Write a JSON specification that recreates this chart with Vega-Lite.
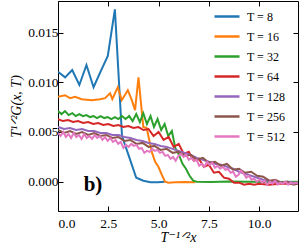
{
  "$schema": "https://vega.github.io/schema/vega-lite/v6.json",
  "width": 240,
  "height": 210,
  "autosize": {"type": "none"},
  "padding": {"left": 58, "top": 1, "right": 2, "bottom": 39},
  "background": "white",
  "config": {
    "view": {"stroke": null},
    "axis": {
      "domainColor": "black", "domainWidth": 1, "tickColor": "black", "tickWidth": 1, "tickSize": -5,
      "grid": false, "labelFont": "Liberation Serif, DejaVu Serif, serif", "labelFontSize": 13.5, "labelColor": "black",
      "titleFont": "Liberation Serif, DejaVu Serif, serif", "titleFontSize": 14, "titleFontWeight": "normal", "titleFontStyle": "italic", "titleColor": "black"
    },
    "legend": {
      "labelFont": "Liberation Serif, DejaVu Serif, serif", "labelFontSize": 12, "labelColor": "black"
    }
  },
  "datasets": {
    "curves": [
      {"T": 8, "x": 0.0, "y": 0.01107}, {"T": 8, "x": 0.354, "y": 0.0105}, {"T": 8, "x": 0.707, "y": 0.01124},
      {"T": 8, "x": 1.061, "y": 0.00973}, {"T": 8, "x": 1.414, "y": 0.01174}, {"T": 8, "x": 1.768, "y": 0.0095},
      {"T": 8, "x": 2.121, "y": 0.0111}, {"T": 8, "x": 2.475, "y": 0.01265}, {"T": 8, "x": 2.828, "y": 0.01734},
      {"T": 8, "x": 3.182, "y": 0.0046}, {"T": 8, "x": 3.536, "y": 0.0025}, {"T": 8, "x": 3.889, "y": 0.0004},
      {"T": 8, "x": 4.243, "y": 0.0001}, {"T": 8, "x": 4.596, "y": -0.00005}, {"T": 8, "x": 4.95, "y": -0.00005},
      {"T": 8, "x": 5.303, "y": 0.0},

      {"T": 16, "x": 0.0, "y": 0.00855}, {"T": 16, "x": 0.35, "y": 0.0087}, {"T": 16, "x": 0.6, "y": 0.0084},
      {"T": 16, "x": 0.85, "y": 0.00855}, {"T": 16, "x": 1.18, "y": 0.0083}, {"T": 16, "x": 1.68, "y": 0.0082},
      {"T": 16, "x": 2.09, "y": 0.0083}, {"T": 16, "x": 2.34, "y": 0.0084}, {"T": 16, "x": 2.59, "y": 0.0089},
      {"T": 16, "x": 2.7, "y": 0.0083}, {"T": 16, "x": 2.97, "y": 0.0095}, {"T": 16, "x": 3.17, "y": 0.0082},
      {"T": 16, "x": 3.47, "y": 0.0092}, {"T": 16, "x": 3.67, "y": 0.0082}, {"T": 16, "x": 3.83, "y": 0.0072},
      {"T": 16, "x": 4.0, "y": 0.0105}, {"T": 16, "x": 4.24, "y": 0.0055}, {"T": 16, "x": 4.41, "y": 0.0054},
      {"T": 16, "x": 4.66, "y": 0.003}, {"T": 16, "x": 4.83, "y": 0.002}, {"T": 16, "x": 4.99, "y": 0.0015},
      {"T": 16, "x": 5.16, "y": 0.0007}, {"T": 16, "x": 5.32, "y": 0.0}, {"T": 16, "x": 5.49, "y": -0.0001},
      {"T": 16, "x": 5.82, "y": -0.00006}, {"T": 16, "x": 6.3, "y": -0.00004}, {"T": 16, "x": 6.82, "y": -0.00006},

      {"T": 32, "x": 0.0, "y": 0.0071}, {"T": 32, "x": 0.18, "y": 0.0068}, {"T": 32, "x": 0.35, "y": 0.0071},
      {"T": 32, "x": 0.53, "y": 0.0067}, {"T": 32, "x": 0.71, "y": 0.0069}, {"T": 32, "x": 0.88, "y": 0.0066},
      {"T": 32, "x": 1.06, "y": 0.0068}, {"T": 32, "x": 1.24, "y": 0.0066}, {"T": 32, "x": 1.41, "y": 0.0067},
      {"T": 32, "x": 1.59, "y": 0.0065}, {"T": 32, "x": 1.77, "y": 0.0066}, {"T": 32, "x": 1.94, "y": 0.0064},
      {"T": 32, "x": 2.12, "y": 0.0066}, {"T": 32, "x": 2.3, "y": 0.0064}, {"T": 32, "x": 2.47, "y": 0.0065},
      {"T": 32, "x": 2.65, "y": 0.0063}, {"T": 32, "x": 2.83, "y": 0.0065}, {"T": 32, "x": 3.0, "y": 0.0063},
      {"T": 32, "x": 3.18, "y": 0.0066}, {"T": 32, "x": 3.36, "y": 0.0063}, {"T": 32, "x": 3.54, "y": 0.0066},
      {"T": 32, "x": 3.71, "y": 0.0061}, {"T": 32, "x": 3.89, "y": 0.0068}, {"T": 32, "x": 4.07, "y": 0.006},
      {"T": 32, "x": 4.24, "y": 0.0069}, {"T": 32, "x": 4.42, "y": 0.0058}, {"T": 32, "x": 4.6, "y": 0.0066},
      {"T": 32, "x": 4.77, "y": 0.0055}, {"T": 32, "x": 4.95, "y": 0.0063}, {"T": 32, "x": 5.13, "y": 0.0052},
      {"T": 32, "x": 5.3, "y": 0.0058}, {"T": 32, "x": 5.48, "y": 0.0046}, {"T": 32, "x": 5.66, "y": 0.0051},
      {"T": 32, "x": 5.83, "y": 0.0034}, {"T": 32, "x": 6.01, "y": 0.0027}, {"T": 32, "x": 6.19, "y": 0.0018},
      {"T": 32, "x": 6.36, "y": 0.0013}, {"T": 32, "x": 6.54, "y": 0.0006}, {"T": 32, "x": 6.72, "y": 0.0001},
      {"T": 32, "x": 6.89, "y": 0.0}, {"T": 32, "x": 7.6, "y": -0.00002}, {"T": 32, "x": 8.5, "y": 0.00002},
      {"T": 32, "x": 9.5, "y": 0.0}, {"T": 32, "x": 10.5, "y": -0.00002}, {"T": 32, "x": 11.93, "y": 0.0},

      {"T": 64, "x": 0.0, "y": 0.0063}, {"T": 64, "x": 0.25, "y": 0.0061}, {"T": 64, "x": 0.5, "y": 0.0062},
      {"T": 64, "x": 0.75, "y": 0.006}, {"T": 64, "x": 1.0, "y": 0.0061}, {"T": 64, "x": 1.25, "y": 0.0059},
      {"T": 64, "x": 1.5, "y": 0.006}, {"T": 64, "x": 1.75, "y": 0.0058}, {"T": 64, "x": 2.0, "y": 0.0059},
      {"T": 64, "x": 2.25, "y": 0.0057}, {"T": 64, "x": 2.5, "y": 0.0058}, {"T": 64, "x": 2.75, "y": 0.0056},
      {"T": 64, "x": 3.0, "y": 0.0057}, {"T": 64, "x": 3.25, "y": 0.0055}, {"T": 64, "x": 3.5, "y": 0.0056},
      {"T": 64, "x": 3.75, "y": 0.0054}, {"T": 64, "x": 4.0, "y": 0.0055}, {"T": 64, "x": 4.25, "y": 0.0052},
      {"T": 64, "x": 4.5, "y": 0.0053}, {"T": 64, "x": 4.75, "y": 0.0046}, {"T": 64, "x": 5.0, "y": 0.005},
      {"T": 64, "x": 5.25, "y": 0.0042}, {"T": 64, "x": 5.5, "y": 0.0045}, {"T": 64, "x": 5.75, "y": 0.0035},
      {"T": 64, "x": 6.0, "y": 0.0038}, {"T": 64, "x": 6.25, "y": 0.0028}, {"T": 64, "x": 6.5, "y": 0.003},
      {"T": 64, "x": 6.75, "y": 0.0021}, {"T": 64, "x": 7.0, "y": 0.0023}, {"T": 64, "x": 7.25, "y": 0.0015},
      {"T": 64, "x": 7.5, "y": 0.0017}, {"T": 64, "x": 7.75, "y": 0.0009}, {"T": 64, "x": 8.0, "y": 0.001},
      {"T": 64, "x": 8.25, "y": 0.0004}, {"T": 64, "x": 8.5, "y": 0.0003}, {"T": 64, "x": 8.75, "y": -0.0001},
      {"T": 64, "x": 9.0, "y": -0.0001}, {"T": 64, "x": 9.25, "y": -0.0003}, {"T": 64, "x": 9.5, "y": -0.0002},
      {"T": 64, "x": 9.75, "y": -0.0003}, {"T": 64, "x": 10.0, "y": -0.0002}, {"T": 64, "x": 10.5, "y": -0.0003},
      {"T": 64, "x": 11.0, "y": -0.0002}, {"T": 64, "x": 11.5, "y": -0.0002}, {"T": 64, "x": 11.93, "y": -0.0002},

      {"T": 128, "x": 0.0, "y": 0.0055}, {"T": 128, "x": 0.3, "y": 0.0053}, {"T": 128, "x": 0.6, "y": 0.0054},
      {"T": 128, "x": 0.9, "y": 0.0052}, {"T": 128, "x": 1.2, "y": 0.0053}, {"T": 128, "x": 1.5, "y": 0.0051},
      {"T": 128, "x": 1.8, "y": 0.0051}, {"T": 128, "x": 2.1, "y": 0.0049}, {"T": 128, "x": 2.4, "y": 0.0049},
      {"T": 128, "x": 2.7, "y": 0.0047}, {"T": 128, "x": 3.0, "y": 0.0047}, {"T": 128, "x": 3.3, "y": 0.0045},
      {"T": 128, "x": 3.6, "y": 0.0044}, {"T": 128, "x": 3.9, "y": 0.0042}, {"T": 128, "x": 4.2, "y": 0.0041},
      {"T": 128, "x": 4.5, "y": 0.0039}, {"T": 128, "x": 4.8, "y": 0.0038}, {"T": 128, "x": 5.1, "y": 0.0036},
      {"T": 128, "x": 5.4, "y": 0.0035}, {"T": 128, "x": 5.7, "y": 0.0033}, {"T": 128, "x": 6.0, "y": 0.0031},
      {"T": 128, "x": 6.3, "y": 0.0029}, {"T": 128, "x": 6.6, "y": 0.0027}, {"T": 128, "x": 6.9, "y": 0.0024},
      {"T": 128, "x": 7.2, "y": 0.0022}, {"T": 128, "x": 7.5, "y": 0.002}, {"T": 128, "x": 7.8, "y": 0.0018},
      {"T": 128, "x": 8.1, "y": 0.0017}, {"T": 128, "x": 8.4, "y": 0.0015}, {"T": 128, "x": 8.7, "y": 0.0013},
      {"T": 128, "x": 9.0, "y": 0.001}, {"T": 128, "x": 9.3, "y": 0.0008}, {"T": 128, "x": 9.6, "y": 0.0006},
      {"T": 128, "x": 9.9, "y": 0.0004}, {"T": 128, "x": 10.2, "y": 0.0002}, {"T": 128, "x": 10.5, "y": 0.0001},
      {"T": 128, "x": 10.8, "y": 0.0}, {"T": 128, "x": 11.1, "y": -0.0001}, {"T": 128, "x": 11.4, "y": 0.0},
      {"T": 128, "x": 11.7, "y": -0.0001}, {"T": 128, "x": 11.93, "y": -0.0001},

      {"T": 256, "x": 0.0, "y": 0.0052}, {"T": 256, "x": 0.3, "y": 0.0049}, {"T": 256, "x": 0.6, "y": 0.0051},
      {"T": 256, "x": 0.9, "y": 0.0048}, {"T": 256, "x": 1.2, "y": 0.005}, {"T": 256, "x": 1.5, "y": 0.0047},
      {"T": 256, "x": 1.8, "y": 0.0049}, {"T": 256, "x": 2.1, "y": 0.0046}, {"T": 256, "x": 2.4, "y": 0.0047},
      {"T": 256, "x": 2.7, "y": 0.0044}, {"T": 256, "x": 3.0, "y": 0.0045}, {"T": 256, "x": 3.3, "y": 0.0041},
      {"T": 256, "x": 3.6, "y": 0.0042}, {"T": 256, "x": 3.9, "y": 0.0038}, {"T": 256, "x": 4.2, "y": 0.0039},
      {"T": 256, "x": 4.5, "y": 0.0035}, {"T": 256, "x": 4.8, "y": 0.0036}, {"T": 256, "x": 5.1, "y": 0.0032},
      {"T": 256, "x": 5.4, "y": 0.0033}, {"T": 256, "x": 5.7, "y": 0.0029}, {"T": 256, "x": 6.0, "y": 0.003},
      {"T": 256, "x": 6.3, "y": 0.0026}, {"T": 256, "x": 6.6, "y": 0.0027}, {"T": 256, "x": 6.9, "y": 0.0022},
      {"T": 256, "x": 7.2, "y": 0.0024}, {"T": 256, "x": 7.5, "y": 0.0019}, {"T": 256, "x": 7.8, "y": 0.002},
      {"T": 256, "x": 8.1, "y": 0.0016}, {"T": 256, "x": 8.4, "y": 0.0018}, {"T": 256, "x": 8.7, "y": 0.0012},
      {"T": 256, "x": 9.0, "y": 0.0013}, {"T": 256, "x": 9.3, "y": 0.0009}, {"T": 256, "x": 9.6, "y": 0.001},
      {"T": 256, "x": 9.9, "y": 0.0006}, {"T": 256, "x": 10.2, "y": 0.0005}, {"T": 256, "x": 10.5, "y": 0.0001},
      {"T": 256, "x": 10.8, "y": 0.0002}, {"T": 256, "x": 11.1, "y": -0.0001}, {"T": 256, "x": 11.4, "y": 0.0},
      {"T": 256, "x": 11.7, "y": -0.0003}, {"T": 256, "x": 11.93, "y": -0.0002},

      {"T": 512, "x": 0.0, "y": 0.0049}, {"T": 512, "x": 0.13, "y": 0.0046}, {"T": 512, "x": 0.26, "y": 0.005},
      {"T": 512, "x": 0.39, "y": 0.0045}, {"T": 512, "x": 0.52, "y": 0.0048}, {"T": 512, "x": 0.65, "y": 0.0044},
      {"T": 512, "x": 0.78, "y": 0.0049}, {"T": 512, "x": 0.91, "y": 0.0045}, {"T": 512, "x": 1.04, "y": 0.0047},
      {"T": 512, "x": 1.17, "y": 0.0043}, {"T": 512, "x": 1.3, "y": 0.0048}, {"T": 512, "x": 1.43, "y": 0.0044},
      {"T": 512, "x": 1.56, "y": 0.0046}, {"T": 512, "x": 1.69, "y": 0.0043}, {"T": 512, "x": 1.82, "y": 0.0047},
      {"T": 512, "x": 1.95, "y": 0.0044}, {"T": 512, "x": 2.08, "y": 0.0046}, {"T": 512, "x": 2.21, "y": 0.0042},
      {"T": 512, "x": 2.34, "y": 0.0045}, {"T": 512, "x": 2.47, "y": 0.0041}, {"T": 512, "x": 2.6, "y": 0.0044},
      {"T": 512, "x": 2.73, "y": 0.004}, {"T": 512, "x": 2.86, "y": 0.0042}, {"T": 512, "x": 2.99, "y": 0.0038},
      {"T": 512, "x": 3.12, "y": 0.004}, {"T": 512, "x": 3.25, "y": 0.0034}, {"T": 512, "x": 3.38, "y": 0.0037},
      {"T": 512, "x": 3.51, "y": 0.0035}, {"T": 512, "x": 3.64, "y": 0.0038}, {"T": 512, "x": 3.77, "y": 0.0036},
      {"T": 512, "x": 3.9, "y": 0.0037}, {"T": 512, "x": 4.03, "y": 0.0033}, {"T": 512, "x": 4.16, "y": 0.0034},
      {"T": 512, "x": 4.29, "y": 0.0029}, {"T": 512, "x": 4.42, "y": 0.0031}, {"T": 512, "x": 4.55, "y": 0.003},
      {"T": 512, "x": 4.68, "y": 0.0033}, {"T": 512, "x": 4.81, "y": 0.0031}, {"T": 512, "x": 4.94, "y": 0.0032},
      {"T": 512, "x": 5.07, "y": 0.0029}, {"T": 512, "x": 5.2, "y": 0.003}, {"T": 512, "x": 5.33, "y": 0.0026},
      {"T": 512, "x": 5.46, "y": 0.0027}, {"T": 512, "x": 5.59, "y": 0.0023}, {"T": 512, "x": 5.72, "y": 0.0025},
      {"T": 512, "x": 5.85, "y": 0.0021}, {"T": 512, "x": 5.98, "y": 0.0026}, {"T": 512, "x": 6.11, "y": 0.0028},
      {"T": 512, "x": 6.24, "y": 0.0025}, {"T": 512, "x": 6.37, "y": 0.0027}, {"T": 512, "x": 6.5, "y": 0.0022},
      {"T": 512, "x": 6.63, "y": 0.0024}, {"T": 512, "x": 6.76, "y": 0.0021}, {"T": 512, "x": 6.89, "y": 0.0022},
      {"T": 512, "x": 7.02, "y": 0.0016}, {"T": 512, "x": 7.15, "y": 0.0018}, {"T": 512, "x": 7.28, "y": 0.0015},
      {"T": 512, "x": 7.41, "y": 0.002}, {"T": 512, "x": 7.54, "y": 0.0017}, {"T": 512, "x": 7.67, "y": 0.0019},
      {"T": 512, "x": 7.8, "y": 0.0014}, {"T": 512, "x": 7.93, "y": 0.0016}, {"T": 512, "x": 8.06, "y": 0.0013},
      {"T": 512, "x": 8.19, "y": 0.0015}, {"T": 512, "x": 8.32, "y": 0.0012}, {"T": 512, "x": 8.45, "y": 0.0013},
      {"T": 512, "x": 8.58, "y": 0.0009}, {"T": 512, "x": 8.71, "y": 0.001}, {"T": 512, "x": 8.84, "y": 0.0005},
      {"T": 512, "x": 8.97, "y": 0.0007}, {"T": 512, "x": 9.1, "y": 0.0011}, {"T": 512, "x": 9.23, "y": 0.0008},
      {"T": 512, "x": 9.36, "y": 0.0004}, {"T": 512, "x": 9.49, "y": 0.0006}, {"T": 512, "x": 9.62, "y": 0.0002},
      {"T": 512, "x": 9.75, "y": 0.0003}, {"T": 512, "x": 9.88, "y": 0.0}, {"T": 512, "x": 10.01, "y": 0.0002},
      {"T": 512, "x": 10.14, "y": -0.0001}, {"T": 512, "x": 10.27, "y": 0.0001}, {"T": 512, "x": 10.4, "y": -0.0003},
      {"T": 512, "x": 10.53, "y": 0.0}, {"T": 512, "x": 10.66, "y": -0.0002}, {"T": 512, "x": 10.79, "y": 0.0001},
      {"T": 512, "x": 10.92, "y": -0.0003}, {"T": 512, "x": 11.05, "y": -0.0001}, {"T": 512, "x": 11.18, "y": -0.0002},
      {"T": 512, "x": 11.31, "y": 0.0}, {"T": 512, "x": 11.44, "y": -0.0003}, {"T": 512, "x": 11.57, "y": -0.0001},
      {"T": 512, "x": 11.7, "y": -0.0002}, {"T": 512, "x": 11.83, "y": -0.0001}, {"T": 512, "x": 11.93, "y": -0.0002}
    ],
    "panel": [{"label": "b)", "x": 1.74, "y": -0.0003}]
  },
  "layer": [
    {
      "data": {"name": "curves"},
      "mark": {"type": "line", "strokeWidth": 2, "clip": true},
      "encoding": {
        "x": {
          "field": "x", "type": "quantitative",
          "scale": {"domain": [0, 11.93], "nice": false, "zero": false},
          "axis": {"orient": "bottom", "title": "T⁻¹ᐟ²x", "values": [0, 2.5, 5, 7.5, 10], "format": ".1f", "labelPadding": 10, "titlePadding": 1}
        },
        "y": {
          "field": "y", "type": "quantitative",
          "scale": {"domain": [-0.00295, 0.01818], "nice": false, "zero": false},
          "axis": {"orient": "left", "title": "T¹ᐟ²G(x, T)", "values": [0, 0.005, 0.01, 0.015], "format": ".3f", "labelPadding": 5, "titlePadding": 4}
        },
        "color": {
          "field": "T", "type": "ordinal",
          "scale": {"domain": [8, 16, 32, 64, 128, 256, 512], "range": ["#1f77b4", "#ff7f0e", "#2ca02c", "#d62728", "#9467bd", "#8c564b", "#e377c2"]},
          "legend": {
            "title": null, "orient": "none", "legendX": 155, "legendY": 1.5,
            "symbolType": "stroke", "symbolSize": 625, "symbolStrokeWidth": 2.5,
            "labelOffset": 6, "rowPadding": -4, "padding": 0,
            "labelExpr": "'T = ' + datum.label"
          }
        }
      }
    },
    {
      "data": {"name": "panel"},
      "mark": {"type": "text", "font": "Liberation Serif, DejaVu Serif, serif", "fontSize": 21, "fontWeight": "bold", "color": "black", "align": "center", "baseline": "middle"},
      "encoding": {
        "x": {"field": "x", "type": "quantitative", "axis": {"orient": "top", "title": null, "labels": false, "values": [0, 2.5, 5, 7.5, 10], "domain": true}},
        "y": {"field": "y", "type": "quantitative", "axis": {"orient": "right", "title": null, "labels": false, "values": [0, 0.005, 0.01, 0.015], "domain": true}},
        "text": {"field": "label"}
      }
    }
  ],
  "resolve": {"axis": {"x": "independent", "y": "independent"}}
}
